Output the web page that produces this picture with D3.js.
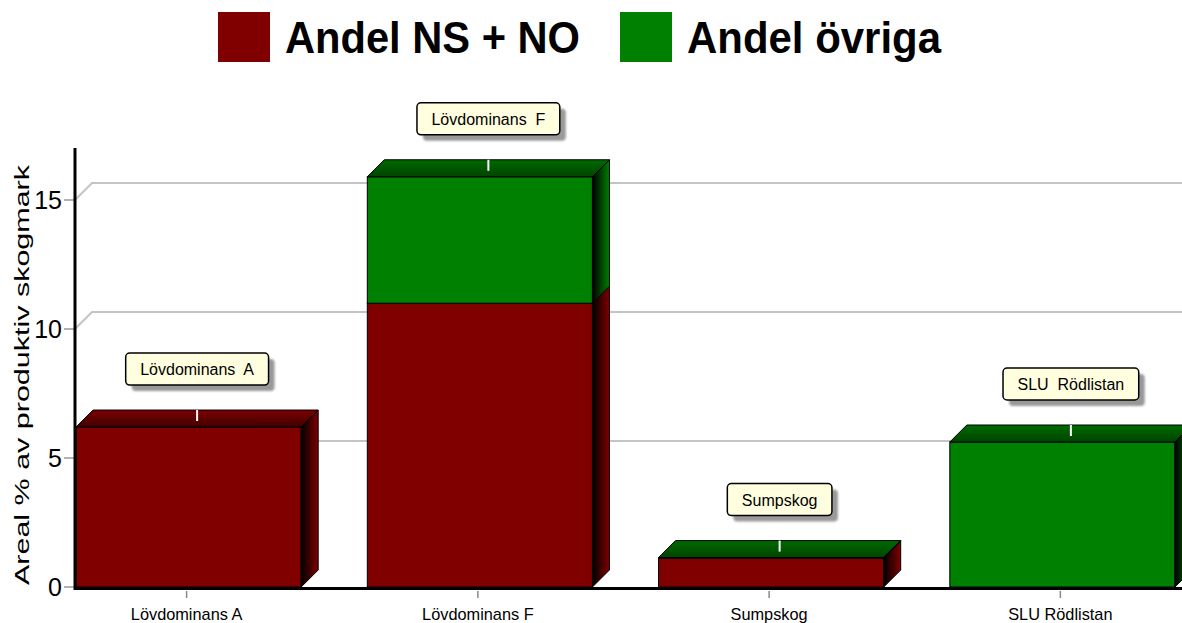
<!DOCTYPE html>
<html lang="sv">
<head>
  <meta charset="UTF-8">
  <title>Andel NS + NO / Andel övriga</title>
  <style>
    body { margin: 0; background: #fff; }
    svg { display: block; font-family: Arial, "Liberation Sans", sans-serif; }
  </style>
</head>
<body>
  <script src="https://d3js.org/d3.v7.min.js"></script>
  <script>
  // data
  var categories = ['Lövdominans A', 'Lövdominans F', 'Sumpskog', 'SLU Rödlistan'];
  var calloutLabels = ['Lövdominans  A', 'Lövdominans  F', 'Sumpskog', 'SLU  Rödlistan'];
  var seriesNames = ['Andel NS + NO', 'Andel övriga'];
  var andelNsNo = [6.2, 11.0, 1.12, 0];
  var andelOvriga = [0, 4.9, 0.02, 5.62];
  var yTicks = [0, 5, 10, 15];
  var yTitle = 'Areal % av produktiv skogmark';

  var colors = ['#800000', '#008000'];
  var topColors = [['#7a0000', '#420000'], ['#006a00', '#004400']];

  var W = 1182, H = 623;
  var depth = 17;

  // the original picture is squeezed sideways a bit, text looks narrow
  function squeeze(sel, k) {
    sel.each(function () {
      var n = this;
      var w = n.getComputedTextLength();
      d3.select(n).attr('textLength', w * k).attr('lengthAdjust', 'spacingAndGlyphs');
    });
  }

  var svg = d3.select('body').append('svg')
    .attr('width', W).attr('height', H);

  var x = d3.scaleBand()
    .domain(categories)
    .range([43, 1208])
    .paddingInner(0.227)
    .paddingOuter(0.1135);

  var y = d3.scaleLinear()
    .domain([0, 15])
    .range([587, 200]);

  // gradients
  var defs = svg.append('defs');
  colors.forEach(function (c, i) {
    var side = defs.append('linearGradient').attr('id', 'side' + i)
      .attr('x1', 0).attr('x2', 1).attr('y1', 0).attr('y2', 0);
    side.append('stop').attr('offset', 0).attr('stop-color', '#000');
    side.append('stop').attr('offset', 1).attr('stop-color', c);
    var top = defs.append('linearGradient').attr('id', 'top' + i)
      .attr('x1', 0).attr('x2', 0).attr('y1', 0).attr('y2', 1);
    top.append('stop').attr('offset', 0).attr('stop-color', topColors[i][0]);
    top.append('stop').attr('offset', 1).attr('stop-color', topColors[i][1]);
  });
  var shadow = defs.append('filter').attr('id', 'blur')
    .attr('x', '-10%').attr('y', '-20%').attr('width', '130%').attr('height', '150%');
  shadow.append('feGaussianBlur').attr('stdDeviation', 1.2);

  // grid lines (back wall, offset by depth)
  var axisX = 75;
  svg.append('g').selectAll('path')
    .data(yTicks.filter(function (d) { return d > 0; }))
    .enter().append('path')
    .attr('d', function (d) {
      var yy = y(d);
      return 'M' + axisX + ',' + yy + 'L' + (axisX + depth) + ',' + (yy - depth) + 'L' + W + ',' + (yy - depth);
    })
    .attr('fill', 'none')
    .attr('stroke', '#c4c4c4')
    .attr('stroke-width', 2);

  // y ticks
  var yAxis = svg.append('g');
  yAxis.selectAll('line').data(yTicks).enter().append('line')
    .attr('x1', 64).attr('x2', axisX)
    .attr('y1', function (d) { return y(d); })
    .attr('y2', function (d) { return y(d); })
    .attr('stroke', '#999').attr('stroke-width', 1.5);
  yAxis.selectAll('text').data(yTicks).enter().append('text')
    .attr('x', 62)
    .attr('y', function (d) { return y(d) + 9; })
    .attr('text-anchor', 'end')
    .attr('font-size', 25)
    .text(function (d) { return d; });

  svg.append('text')
    .attr('transform', 'translate(29,' + 375 + ') rotate(-90)')
    .attr('text-anchor', 'middle')
    .attr('font-size', 20)
    .attr('textLength', 420)
    .attr('lengthAdjust', 'spacingAndGlyphs')
    .text(yTitle);

  // bars
  var stacks = categories.map(function (c, i) {
    var vals = [andelNsNo[i], andelOvriga[i]];
    var base = 0, segs = [];
    vals.forEach(function (v, s) {
      segs.push({ s: s, y0: base, y1: base + v });
      base += v;
    });
    return { cat: c, label: calloutLabels[i], segs: segs, total: base };
  });

  var bars = svg.append('g').selectAll('g.bar')
    .data(stacks).enter().append('g').attr('class', 'bar');

  bars.each(function (d) {
    var g = d3.select(this);
    var x0 = x(d.cat), x1 = x0 + x.bandwidth();
    d.segs.forEach(function (sg) {
      if (sg.y1 - sg.y0 <= 0) return;
      var ya = y(sg.y0), yb = y(sg.y1);
      g.append('rect')
        .attr('x', x0).attr('y', yb)
        .attr('width', x1 - x0).attr('height', ya - yb)
        .attr('fill', colors[sg.s])
        .attr('stroke', '#000').attr('stroke-width', 1);
      g.append('path')
        .attr('d', 'M' + x1 + ',' + yb + 'L' + (x1 + depth) + ',' + (yb - depth) +
          'L' + (x1 + depth) + ',' + (ya - depth) + 'L' + x1 + ',' + ya + 'Z')
        .attr('fill', 'url(#side' + sg.s + ')')
        .attr('stroke', '#000').attr('stroke-width', 1);
    });
    var topSeg = d.segs.filter(function (sg) { return sg.y1 - sg.y0 > 0; }).pop();
    var yt = y(d.total);
    g.append('path')
      .attr('d', 'M' + x0 + ',' + yt + 'L' + (x0 + depth) + ',' + (yt - depth) +
        'L' + (x1 + depth) + ',' + (yt - depth) + 'L' + x1 + ',' + yt + 'Z')
      .attr('fill', 'url(#top' + topSeg.s + ')')
      .attr('stroke', '#000').attr('stroke-width', 1);

    // callout connector (white, visible only on the bar top)
    var cx = x0 + x.bandwidth() / 2 + depth / 2;
    g.append('line')
      .attr('x1', cx).attr('x2', cx)
      .attr('y1', yt - depth).attr('y2', yt - depth + 11)
      .attr('stroke', '#fff').attr('stroke-width', 2);
  });

  // axes lines
  svg.append('line')
    .attr('x1', axisX - 1).attr('x2', W)
    .attr('y1', y(0) + 1.5).attr('y2', y(0) + 1.5)
    .attr('stroke', '#000').attr('stroke-width', 3);
  svg.append('line')
    .attr('x1', axisX).attr('x2', axisX)
    .attr('y1', 148).attr('y2', y(0) + 3)
    .attr('stroke', '#000').attr('stroke-width', 3);

  // category ticks + labels
  var xAxis = svg.append('g');
  xAxis.selectAll('line').data(categories).enter().append('line')
    .attr('x1', function (d) { return x(d) + x.bandwidth() / 2 - 2; })
    .attr('x2', function (d) { return x(d) + x.bandwidth() / 2 - 2; })
    .attr('y1', y(0) + 4).attr('y2', y(0) + 11)
    .attr('stroke', '#888').attr('stroke-width', 1.5);
  xAxis.selectAll('text').data(categories).enter().append('text')
    .attr('x', function (d) { return x(d) + x.bandwidth() / 2 - 2; })
    .attr('y', 620)
    .attr('text-anchor', 'middle')
    .attr('font-size', 17)
    .text(function (d) { return d; })
    .call(squeeze, 0.96);

  // callouts
  var callouts = svg.append('g').selectAll('g.callout')
    .data(stacks).enter().append('g').attr('class', 'callout');
  callouts.each(function (d) {
    var g = d3.select(this);
    var cx = x(d.cat) + x.bandwidth() / 2 + depth / 2;
    var bottom = y(d.total) - depth - 25;
    var t = g.append('text')
      .attr('x', cx).attr('y', bottom - 10)
      .attr('text-anchor', 'middle')
      .attr('font-size', 16)
      .style('white-space', 'pre')
      .text(d.label);
    var tw = t.node().getComputedTextLength();
    var bw = tw + 29, bh = 32;
    g.insert('rect', 'text')
      .attr('x', cx - bw / 2 + 6).attr('y', bottom - bh + 6)
      .attr('width', bw).attr('height', bh).attr('rx', 4)
      .attr('fill', '#999').attr('filter', 'url(#blur)');
    g.insert('rect', 'text')
      .attr('x', cx - bw / 2).attr('y', bottom - bh)
      .attr('width', bw).attr('height', bh).attr('rx', 4)
      .attr('fill', '#ffffe0').attr('stroke', '#000').attr('stroke-width', 1.5);
  });

  // legend
  var legendX = [218, 620];
  var legendW = [295, 254];
  var legend = svg.append('g').selectAll('g')
    .data(seriesNames).enter().append('g');
  legend.append('rect')
    .attr('x', function (d, i) { return legendX[i]; })
    .attr('y', 12).attr('width', 52).attr('height', 50)
    .attr('fill', function (d, i) { return colors[i]; });
  legend.append('text')
    .attr('x', function (d, i) { return legendX[i] + 67; })
    .attr('y', 53)
    .attr('font-size', 45)
    .attr('font-weight', 'bold')
    .attr('textLength', function (d, i) { return legendW[i]; })
    .attr('lengthAdjust', 'spacingAndGlyphs')
    .text(function (d) { return d; });
  </script>
</body>
</html>
